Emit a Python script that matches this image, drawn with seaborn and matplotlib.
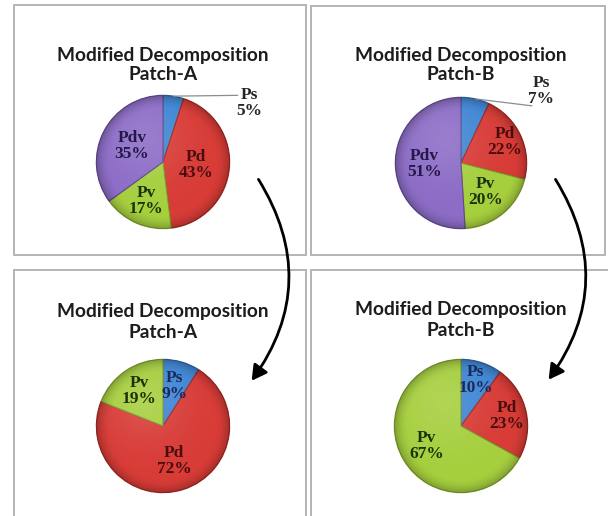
import numpy as np
import matplotlib
matplotlib.use("Agg")
import matplotlib.pyplot as plt
from matplotlib.patches import Rectangle, FancyArrowPatch, Circle
import seaborn as sns

sns.set_theme(style="white")
plt.rcParams["font.family"] = ["Lato", "DejaVu Sans"]

# Slice names and percentages for each of the four pies
labels_a_before = ["Ps", "Pd", "Pv", "Pdv"]
values_a_before = [5, 43, 17, 35]
labels_b_before = ["Ps", "Pd", "Pv", "Pdv"]
values_b_before = [7, 22, 20, 51]
labels_a_after = ["Ps", "Pd", "Pv"]
values_a_after = [9, 72, 19]
labels_b_after = ["Ps", "Pd", "Pv"]
values_b_after = [10, 23, 67]

titles = ["Modified Decomposition\nPatch-A", "Modified Decomposition\nPatch-B",
          "Modified Decomposition\nPatch-A", "Modified Decomposition\nPatch-B"]

palette = dict(zip(["Ps", "Pd", "Pv", "Pdv"],
                   sns.color_palette(["#3f86d4", "#d83c37", "#a6cf3e", "#8c6cc6"])))
edge_colors = {"Ps": "#2c5f9a", "Pd": "#9c2622", "Pv": "#78992a", "Pdv": "#5f4790"}
text_colors = {"Ps": "#1b2a5c", "Pd": "#4a0d0d", "Pv": "#1c3309", "Pdv": "#231848"}

W, H = 608, 516
fig = plt.figure(figsize=(W / 100, H / 100), dpi=100)


def fx(x):
    return x / W


def fy(y):
    return 1 - y / H


# panel frames (pixel boxes: left, top, right, bottom)
frames = [(14, 5, 306, 255), (311, 6, 605, 255), (14, 270, 306, 520), (311, 270, 614, 520)]
for (l, t, r, b) in frames:
    fig.add_artist(Rectangle((fx(l), fy(b)), fx(r - l), fy(t) - fy(b),
                             transform=fig.transFigure, fill=False,
                             edgecolor="#b4b4b4", linewidth=1.4, zorder=0))

# pie centres / radii and per-slice label radius fractions
pies = [
    dict(labels=labels_a_before, values=values_a_before, c=(163, 162), r=68,
         dist=[None, 0.5, 0.63, 0.52], title_y=(55, 74),
         outside=dict(name="Ps", text_xy=(1.29, 0.88), line_end=(1.12, 1.0))),
    dict(labels=labels_b_before, values=values_b_before, c=(461, 163), r=67,
         dist=[None, 0.74, 0.58, 0.56], title_y=(55, 74),
         outside=dict(name="Ps", text_xy=(1.22, 1.09), line_end=(1.08, 0.87))),
    dict(labels=labels_a_after, values=values_a_after, c=(163, 426), r=68,
         dist=[0.62, 0.55, 0.64], title_y=(312, 332), outside=None),
    dict(labels=labels_b_after, values=values_b_after, c=(461, 426), r=68,
         dist=[0.72, 0.7, 0.6], title_y=(310, 330), outside=None),
]


def shade(ax):
    # soft rim darkening and a light highlight to give the slices some depth
    n = 300
    yy, xx = np.mgrid[1:-1:complex(0, n), -1:1:complex(0, n)]
    rr = np.sqrt(xx ** 2 + yy ** 2)
    img = np.zeros((n, n, 4))
    dark = np.clip((rr - 0.78) / 0.22, 0, 1) ** 2 * 0.25
    hl = np.exp(-((xx + 0.25) ** 2 + (yy - 0.35) ** 2) / 0.35) * 0.12
    img[..., :3] = 1.0
    img[..., 3] = hl
    img_dark = np.zeros((n, n, 4))
    img_dark[..., 3] = dark
    clip = Circle((0, 0), 1.0, transform=ax.transData)
    for im_arr in (img, img_dark):
        im = ax.imshow(im_arr, extent=(-1, 1, -1, 1), zorder=3, interpolation="bilinear")
        im.set_clip_path(clip)


LABEL_FONT = dict(fontsize=12.5, fontweight="bold", family=["Liberation Serif"],
                  linespacing=1.0, ha="center", va="center")

for p, title in zip(pies, titles):
    cx, cy = p["c"]
    r = p["r"]
    ax = fig.add_axes([fx(cx - r), fy(cy + r), fx(2 * r), fy(0) - fy(2 * r)])
    cols = [palette[k] for k in p["labels"]]
    wedges, _ = ax.pie(p["values"], colors=cols, startangle=90, counterclock=False,
                       radius=1.0, wedgeprops=dict(linewidth=0.8))
    for w, k in zip(wedges, p["labels"]):
        w.set_edgecolor(edge_colors[k])
        w.set_zorder(2)
    shade(ax)
    ax.set_xlim(-1.02, 1.02)
    ax.set_ylim(-1.02, 1.02)
    ax.set_aspect("equal")
    ax.axis("off")

    for w, k, v, d in zip(wedges, p["labels"], p["values"], p["dist"]):
        mid = np.deg2rad((w.theta1 + w.theta2) / 2)
        if d is None:
            o = p["outside"]
            ax.plot([np.cos(mid), o["line_end"][0]], [np.sin(mid), o["line_end"][1]],
                    color="#8c8c8c", lw=0.9, zorder=4, clip_on=False)
            ax.text(o["text_xy"][0], o["text_xy"][1], f"{k}\n{v}%", color="#262626",
                    zorder=5, clip_on=False, **LABEL_FONT)
            continue
        ax.text(d * np.cos(mid), d * np.sin(mid), f"{k}\n{v}%",
                color=text_colors[k], zorder=5, **LABEL_FONT)

    t1, t2 = title.split("\n")
    fig.text(fx(cx), fy(p["title_y"][0]), t1, ha="center", va="center",
             fontsize=13.8, fontweight="bold", color="#1c1c1c")
    fig.text(fx(cx), fy(p["title_y"][1]), t2, ha="center", va="center",
             fontsize=13.8, fontweight="bold", color="#1c1c1c")

# curved arrows leading from each original pie to its modified version
for (x0, y0), (x1, y1) in [((257, 177), (250, 383)), ((554, 177), (547, 382))]:
    arr = FancyArrowPatch((fx(x0), fy(y0)), (fx(x1), fy(y1)), transform=fig.transFigure,
                          connectionstyle="arc3,rad=-0.34",
                          arrowstyle="-|>,head_length=9,head_width=5",
                          color="black", lw=2.0, zorder=10)
    fig.add_artist(arr)

fig.savefig("out.png", dpi=100, facecolor="white")
